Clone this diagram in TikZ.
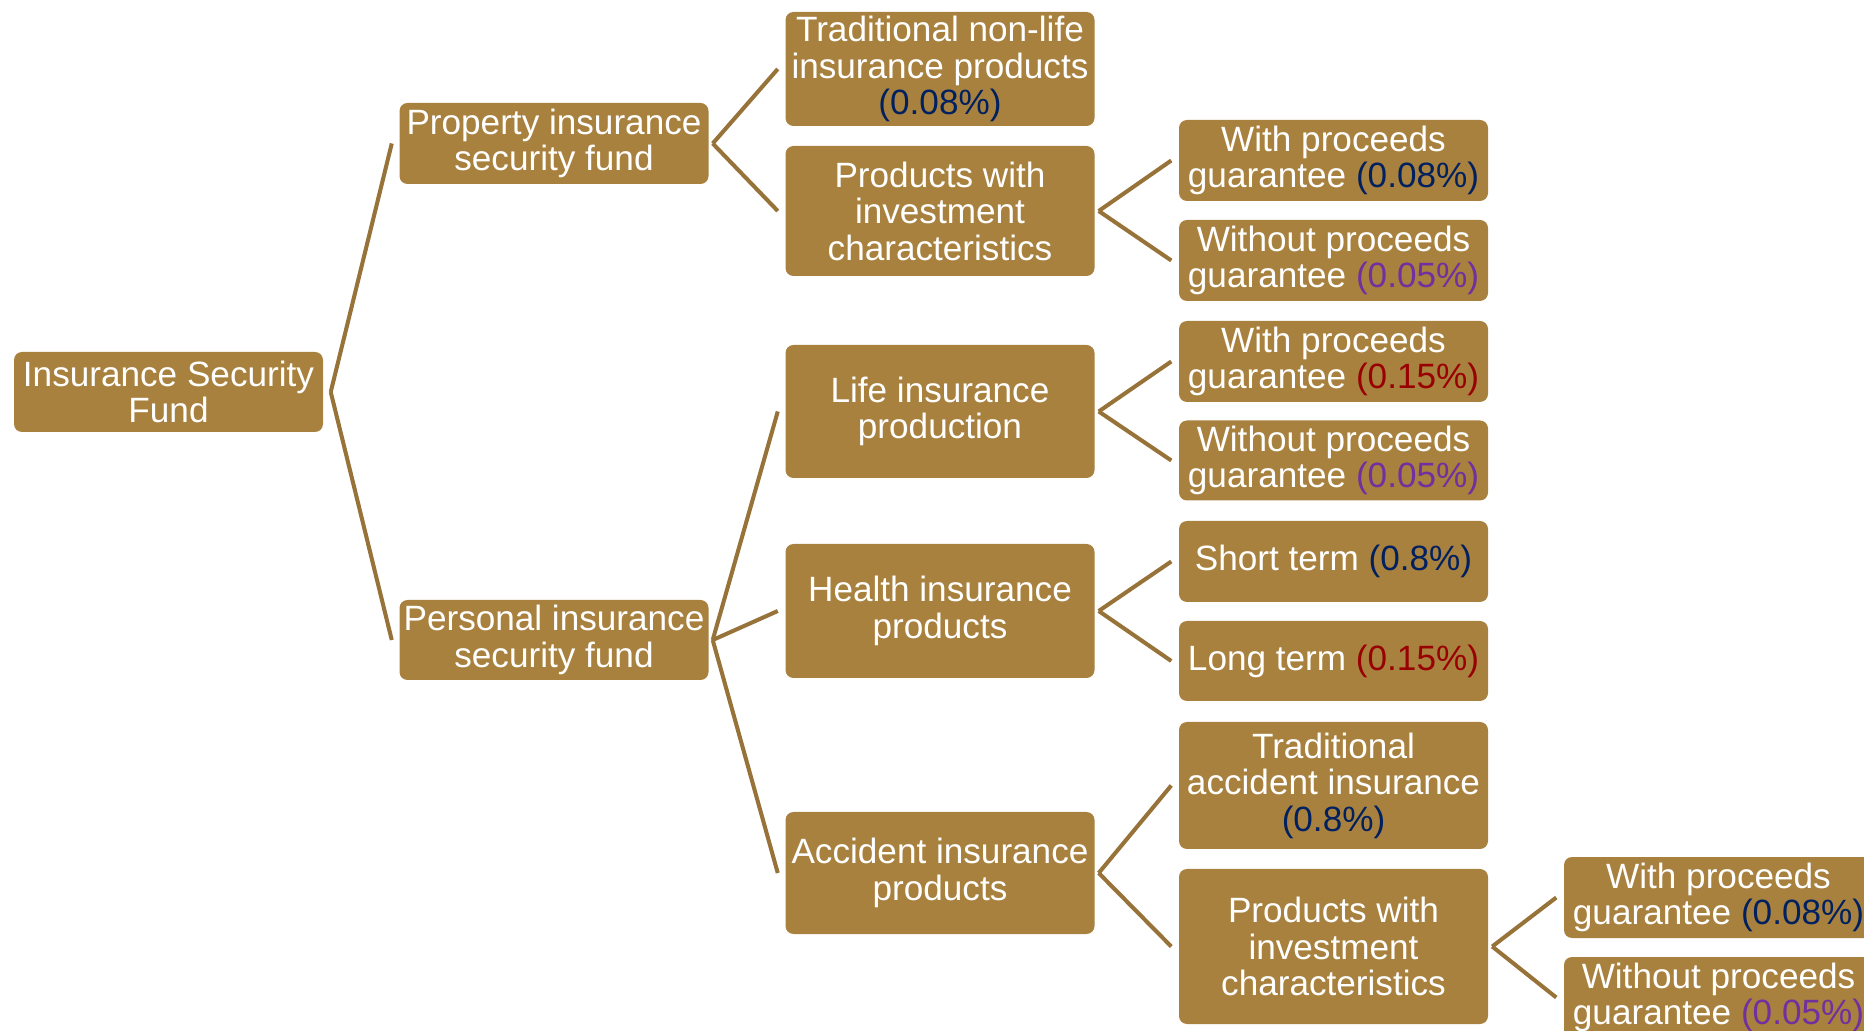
\documentclass[tikz,border=0pt]{standalone}
\usepackage{fontspec}
\setmainfont{Liberation Sans}
\usetikzlibrary{positioning}
\definecolor{gold}{HTML}{A8813E}
\definecolor{goldline}{HTML}{97733A}
\definecolor{navy}{HTML}{002060}
\definecolor{plum}{HTML}{7030A0}
\definecolor{darkred}{HTML}{990000}
\tikzset{box/.style={fill=gold, rounded corners=0.08cm, text=white, align=center,
    minimum width=3.09cm, inner sep=0pt, font=\fontsize{10}{10.4}\selectfont}}
\tikzset{link/.style={draw=goldline, line width=1.15pt}}
\newcommand{\pct}[2]{\textcolor{#1}{(#2)}}

\begin{document}
\begin{tikzpicture}
\useasboundingbox (0,0) rectangle (18.64,-10.31);

% first two levels
\node[box, minimum height=0.80cm] (root) at (1.685,-3.92) {Insurance Security\\Fund};
\node[box, minimum height=0.81cm] (prop) at (5.54,-1.435) {Property insurance\\security fund};
\node[box, minimum height=0.80cm] (pers) at (5.54,-6.40) {Personal insurance\\security fund};

% product kinds
\node[box, minimum height=1.14cm] (tnl) at (9.40,-0.69) {Traditional non-life\\insurance products\\\pct{navy}{0.08\%}};
\node[box, minimum height=1.30cm] (piv) at (9.40,-2.11) {Products with\\investment\\characteristics};
\node[box, minimum height=1.33cm] (life) at (9.40,-4.115) {Life insurance\\production};
\node[box, minimum height=1.34cm] (hlth) at (9.40,-6.11) {Health insurance\\products};
\node[box, minimum height=1.22cm] (acc) at (9.40,-8.73) {Accident insurance\\products};

% rates
\node[box, minimum height=0.81cm] (wp) at (13.335,-1.605) {With proceeds\\guarantee \pct{navy}{0.08\%}};
\node[box, minimum height=0.81cm] (wop) at (13.335,-2.605) {Without proceeds\\guarantee \pct{plum}{0.05\%}};
\node[box, minimum height=0.81cm] (lwp) at (13.335,-3.615) {With proceeds\\guarantee \pct{darkred}{0.15\%}};
\node[box, minimum height=0.80cm] (lwop) at (13.335,-4.605) {Without proceeds\\guarantee \pct{plum}{0.05\%}};
\node[box, minimum height=0.81cm] (st) at (13.335,-5.615) {Short term \pct{navy}{0.8\%}};
\node[box, minimum height=0.80cm] (lt) at (13.335,-6.61) {Long term \pct{darkred}{0.15\%}};
\node[box, minimum height=1.27cm] (tacc) at (13.335,-7.855) {Traditional\\accident insurance\\\pct{navy}{0.8\%}};
\node[box, minimum height=1.55cm] (piv2) at (13.335,-9.465) {Products with\\investment\\characteristics};

\node[box, minimum height=0.81cm] (pwp) at (17.185,-8.975) {With proceeds\\guarantee \pct{navy}{0.08\%}};
\node[box, minimum height=0.81cm] (pwop) at (17.185,-9.975) {Without proceeds\\guarantee \pct{plum}{0.05\%}};

% connectors
\draw[link] ([xshift=2pt]root.east) -- ([xshift=-2pt]prop.west);
\draw[link] ([xshift=2pt]root.east) -- ([xshift=-2pt]pers.west);

\draw[link] ([xshift=1pt]prop.east) -- ([xshift=-2pt]tnl.west);
\draw[link] ([xshift=1pt]prop.east) -- ([xshift=-2pt]piv.west);
\draw[link] ([xshift=1pt]piv.east) -- ([xshift=-2pt]wp.west);
\draw[link] ([xshift=1pt]piv.east) -- ([xshift=-2pt]wop.west);

\draw[link] ([xshift=1pt]pers.east) -- ([xshift=-2pt]life.west);
\draw[link] ([xshift=1pt]pers.east) -- ([xshift=-2pt]hlth.west);
\draw[link] ([xshift=1pt]pers.east) -- ([xshift=-2pt]acc.west);

\draw[link] ([xshift=1pt]life.east) -- ([xshift=-2pt]lwp.west);
\draw[link] ([xshift=1pt]life.east) -- ([xshift=-2pt]lwop.west);
\draw[link] ([xshift=1pt]hlth.east) -- ([xshift=-2pt]st.west);
\draw[link] ([xshift=1pt]hlth.east) -- ([xshift=-2pt]lt.west);
\draw[link] ([xshift=1pt]acc.east) -- ([xshift=-2pt]tacc.west);
\draw[link] ([xshift=1pt]acc.east) -- ([xshift=-2pt]piv2.west);

\draw[link] ([xshift=1pt]piv2.east) -- ([xshift=-2pt]pwp.west);
\draw[link] ([xshift=1pt]piv2.east) -- ([xshift=-2pt]pwop.west);
\end{tikzpicture}
\end{document}
